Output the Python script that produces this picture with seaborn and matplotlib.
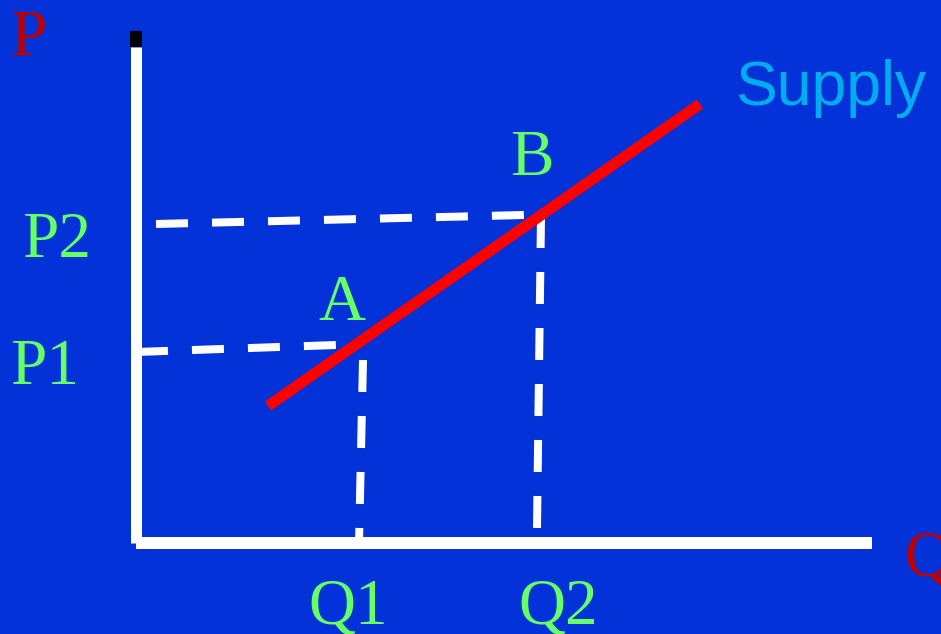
import matplotlib
matplotlib.use("Agg")
import matplotlib.pyplot as plt
import seaborn as sns
import pandas as pd

# ---- data (chart units: origin at the axis corner, Q to the right, P upward) ----
supply_q = [132, 564]
supply_p = [137, 439]

p1_line_q = [0, 200]
p1_line_p = [191, 198]
p2_line_q = [20, 388]
p2_line_p = [319, 328]
q1_line_q = [227, 223]
q1_line_p = [183, 0]
q2_line_q = [405, 401]
q2_line_p = [327, 15]

axis_y_q = [-0.5, -0.5]
axis_y_p = [0, 496]
axis_y_cap_p = [496, 512]
axis_x_q = [0, 736]
axis_x_p = [0, 0]

labels = ["P", "Q", "P1", "P2", "Q1", "Q2", "A", "B", "Supply"]
label_q = [-108, 792, -91, -79, 212, 422, 206, 396, 599]
label_p = [488, -33, 159, 286, -80, -80, 223, 368, 438]

BG = "#0232D8"
GREEN = "#66FF66"
DARKRED = "#C00000"
CYAN = "#00AEEF"

sns.set_theme(style="white")
plt.rcParams["lines.scale_dashes"] = False
plt.rcParams["lines.solid_capstyle"] = "butt"
plt.rcParams["lines.dash_capstyle"] = "butt"

fig = plt.figure(figsize=(9.41, 6.34), dpi=100, facecolor=BG)
ax = fig.add_axes([0, 0, 1, 1])
ax.set_facecolor(BG)
ax.set_xlim(-136, 805)
ax.set_ylim(-91, 543)
ax.axis("off")

px = 72 / 100  # points per pixel


def seg(q, p, color, width_px, dashes=None, z=2):
    df = pd.DataFrame({"q": q, "p": p})
    sns.lineplot(data=df, x="q", y="p", estimator=None, sort=False, ax=ax,
                 color=color, linewidth=width_px * px, zorder=z)
    line = ax.lines[-1]
    line.set_solid_capstyle("butt")
    line.set_dash_capstyle("butt")
    if dashes is not None:
        line.set_dashes([d * px for d in dashes])


# axes
seg(axis_y_q, axis_y_p, "white", 11, z=3)
seg(axis_y_q, axis_y_cap_p, "black", 12, z=3)
seg(axis_x_q, axis_x_p, "white", 12, z=3)

# dashed guide lines
dash = (32, 24)
seg(p1_line_q, p1_line_p, "white", 8, dashes=dash)
seg(p2_line_q, p2_line_p, "white", 8, dashes=dash)
seg(q1_line_q, q1_line_p, "white", 8, dashes=dash)
seg(q2_line_q, q2_line_p, "white", 8, dashes=dash)

# supply curve
seg(supply_q, supply_p, "#FF0000", 11, z=4)

serif = ["Liberation Serif", "DejaVu Serif"]
sans = ["Liberation Sans", "DejaVu Sans"]
colors = {"P": DARKRED, "Q": DARKRED, "Supply": CYAN}
for t, q, p in zip(labels, label_q, label_p):
    if t == "Supply":
        ax.text(q, p, t, color=CYAN, fontsize=45, family=sans,
                ha="left", va="baseline")
    elif t == "Q":
        ax.text(q, p, t, color=DARKRED, fontsize=47, family=serif,
                ha="center", va="baseline")
    else:
        ax.text(q, p, t, color=colors.get(t, GREEN), fontsize=47, family=serif,
                ha="center", va="baseline")

fig.savefig("out.png", dpi=100, facecolor=BG)
